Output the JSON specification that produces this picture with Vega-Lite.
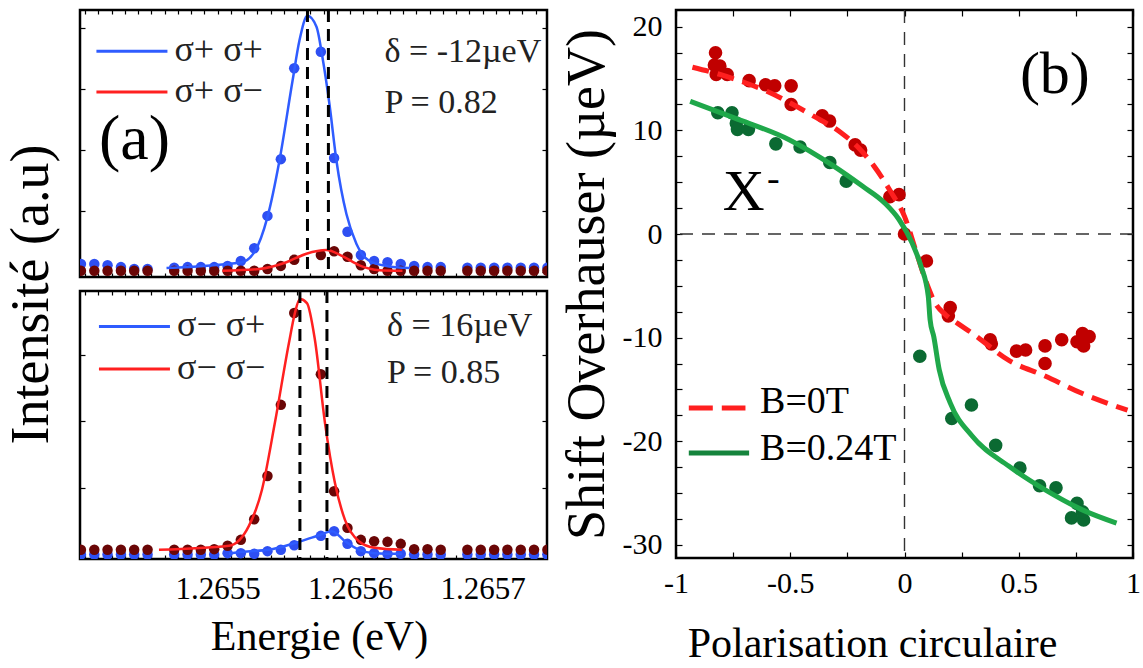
{
  "$schema": "https://vega.github.io/schema/vega-lite/v6.json",
  "background": "white",
  "padding": {"left": 3, "top": 7, "right": 5, "bottom": 5},
  "config": {
    "font": "Liberation Serif",
    "view": {"stroke": "black", "strokeWidth": 2.5},
    "axis": {"domain": false, "grid": false, "labelColor": "black", "titleColor": "black", "tickColor": "black", "tickWidth": 1.2, "titleFontWeight": "normal", "labelFont": "Liberation Serif", "titleFont": "Liberation Serif", "labelOverlap": false, "labelFlush": false},
    "text": {"font": "Liberation Serif", "color": "black"}
  },
  "datasets": {
    "spectra": [
      {"pan":"t","ser":"b","E":1.2653968,"I":0.13},{"pan":"t","ser":"b","E":1.2654069,"I":0.13},{"pan":"t","ser":"b","E":1.2654169,"I":0.11},{"pan":"t","ser":"b","E":1.265427,"I":0.08},{"pan":"t","ser":"b","E":1.265437,"I":0.05},{"pan":"t","ser":"b","E":1.2654471,"I":0.05},{"pan":"t","ser":"b","E":1.2654672,"I":0.07},{"pan":"t","ser":"b","E":1.2654773,"I":0.08},{"pan":"t","ser":"b","E":1.2654873,"I":0.08},{"pan":"t","ser":"b","E":1.2654974,"I":0.08},{"pan":"t","ser":"b","E":1.2655075,"I":0.10},{"pan":"t","ser":"b","E":1.2655175,"I":0.18},{"pan":"t","ser":"b","E":1.2655276,"I":0.39},{"pan":"t","ser":"b","E":1.2655376,"I":0.92},{"pan":"t","ser":"b","E":1.2655477,"I":1.85},{"pan":"t","ser":"b","E":1.2655578,"I":3.34},{"pan":"t","ser":"b","E":1.2655779,"I":3.61},{"pan":"t","ser":"b","E":1.2655879,"I":1.87},{"pan":"t","ser":"b","E":1.265598,"I":0.66},{"pan":"t","ser":"b","E":1.2656081,"I":0.28},{"pan":"t","ser":"b","E":1.2656181,"I":0.18},{"pan":"t","ser":"b","E":1.2656282,"I":0.16},{"pan":"t","ser":"b","E":1.2656382,"I":0.13},{"pan":"t","ser":"b","E":1.2656483,"I":0.10},{"pan":"t","ser":"b","E":1.2656584,"I":0.08},{"pan":"t","ser":"b","E":1.2656684,"I":0.08},{"pan":"t","ser":"b","E":1.2656885,"I":0.07},{"pan":"t","ser":"b","E":1.2656986,"I":0.07},{"pan":"t","ser":"b","E":1.2657087,"I":0.07},{"pan":"t","ser":"b","E":1.2657187,"I":0.07},{"pan":"t","ser":"b","E":1.2657288,"I":0.07},{"pan":"t","ser":"b","E":1.2657388,"I":0.07},{"pan":"t","ser":"b","E":1.2657489,"I":0.07},
      {"pan":"t","ser":"r","E":1.2653968,"I":0.02},{"pan":"t","ser":"r","E":1.2654069,"I":0.02},{"pan":"t","ser":"r","E":1.2654169,"I":0.02},{"pan":"t","ser":"r","E":1.265427,"I":0.02},{"pan":"t","ser":"r","E":1.265437,"I":0.02},{"pan":"t","ser":"r","E":1.2654471,"I":0.02},{"pan":"t","ser":"r","E":1.2654672,"I":0.02},{"pan":"t","ser":"r","E":1.2654773,"I":0.02},{"pan":"t","ser":"r","E":1.2654873,"I":0.02},{"pan":"t","ser":"r","E":1.2654974,"I":0.02},{"pan":"t","ser":"r","E":1.2655075,"I":0.02},{"pan":"t","ser":"r","E":1.2655175,"I":0.02},{"pan":"t","ser":"r","E":1.2655276,"I":0.02},{"pan":"t","ser":"r","E":1.2655376,"I":0.05},{"pan":"t","ser":"r","E":1.2655477,"I":0.10},{"pan":"t","ser":"r","E":1.2655578,"I":0.20},{"pan":"t","ser":"r","E":1.2655779,"I":0.28},{"pan":"t","ser":"r","E":1.2655879,"I":0.34},{"pan":"t","ser":"r","E":1.265598,"I":0.25},{"pan":"t","ser":"r","E":1.2656081,"I":0.11},{"pan":"t","ser":"r","E":1.2656181,"I":0.05},{"pan":"t","ser":"r","E":1.2656282,"I":0.02},{"pan":"t","ser":"r","E":1.2656382,"I":0.02},{"pan":"t","ser":"r","E":1.2656483,"I":0.02},{"pan":"t","ser":"r","E":1.2656584,"I":0.02},{"pan":"t","ser":"r","E":1.2656684,"I":0.02},{"pan":"t","ser":"r","E":1.2656885,"I":0.02},{"pan":"t","ser":"r","E":1.2656986,"I":0.02},{"pan":"t","ser":"r","E":1.2657087,"I":0.02},{"pan":"t","ser":"r","E":1.2657187,"I":0.02},{"pan":"t","ser":"r","E":1.2657288,"I":0.02},{"pan":"t","ser":"r","E":1.2657388,"I":0.02},{"pan":"t","ser":"r","E":1.2657489,"I":0.02},
      {"pan":"b","ser":"b","E":1.2653968,"I":0.0},{"pan":"b","ser":"b","E":1.2654069,"I":0.0},{"pan":"b","ser":"b","E":1.2654169,"I":0.0},{"pan":"b","ser":"b","E":1.265427,"I":0.0},{"pan":"b","ser":"b","E":1.265437,"I":0.0},{"pan":"b","ser":"b","E":1.2654471,"I":0.0},{"pan":"b","ser":"b","E":1.2654672,"I":0.0},{"pan":"b","ser":"b","E":1.2654773,"I":0.0},{"pan":"b","ser":"b","E":1.2654873,"I":0.0},{"pan":"b","ser":"b","E":1.2654974,"I":0.0},{"pan":"b","ser":"b","E":1.2655075,"I":0.02},{"pan":"b","ser":"b","E":1.2655175,"I":0.02},{"pan":"b","ser":"b","E":1.2655276,"I":0.01},{"pan":"b","ser":"b","E":1.2655376,"I":0.05},{"pan":"b","ser":"b","E":1.2655477,"I":0.07},{"pan":"b","ser":"b","E":1.2655578,"I":0.14},{"pan":"b","ser":"b","E":1.2655779,"I":0.28},{"pan":"b","ser":"b","E":1.2655879,"I":0.35},{"pan":"b","ser":"b","E":1.265598,"I":0.16},{"pan":"b","ser":"b","E":1.2656081,"I":0.05},{"pan":"b","ser":"b","E":1.2656181,"I":0.02},{"pan":"b","ser":"b","E":1.2656282,"I":0.01},{"pan":"b","ser":"b","E":1.2656382,"I":0.01},{"pan":"b","ser":"b","E":1.2656483,"I":0.0},{"pan":"b","ser":"b","E":1.2656584,"I":0.0},{"pan":"b","ser":"b","E":1.2656684,"I":0.0},{"pan":"b","ser":"b","E":1.2656885,"I":0.0},{"pan":"b","ser":"b","E":1.2656986,"I":0.0},{"pan":"b","ser":"b","E":1.2657087,"I":0.0},{"pan":"b","ser":"b","E":1.2657187,"I":0.0},{"pan":"b","ser":"b","E":1.2657288,"I":0.0},{"pan":"b","ser":"b","E":1.2657388,"I":0.0},{"pan":"b","ser":"b","E":1.2657489,"I":0.0},
      {"pan":"b","ser":"r","E":1.2653968,"I":0.07},{"pan":"b","ser":"r","E":1.2654069,"I":0.07},{"pan":"b","ser":"r","E":1.2654169,"I":0.07},{"pan":"b","ser":"r","E":1.265427,"I":0.07},{"pan":"b","ser":"r","E":1.265437,"I":0.07},{"pan":"b","ser":"r","E":1.2654471,"I":0.07},{"pan":"b","ser":"r","E":1.2654672,"I":0.07},{"pan":"b","ser":"r","E":1.2654773,"I":0.07},{"pan":"b","ser":"r","E":1.2654873,"I":0.07},{"pan":"b","ser":"r","E":1.2654974,"I":0.08},{"pan":"b","ser":"r","E":1.2655075,"I":0.13},{"pan":"b","ser":"r","E":1.2655175,"I":0.22},{"pan":"b","ser":"r","E":1.2655276,"I":0.53},{"pan":"b","ser":"r","E":1.2655376,"I":1.18},{"pan":"b","ser":"r","E":1.2655477,"I":2.25},{"pan":"b","ser":"r","E":1.2655578,"I":3.63},{"pan":"b","ser":"r","E":1.2655779,"I":2.71},{"pan":"b","ser":"r","E":1.2655879,"I":0.95},{"pan":"b","ser":"r","E":1.265598,"I":0.40},{"pan":"b","ser":"r","E":1.2656081,"I":0.22},{"pan":"b","ser":"r","E":1.2656181,"I":0.20},{"pan":"b","ser":"r","E":1.2656282,"I":0.19},{"pan":"b","ser":"r","E":1.2656382,"I":0.16},{"pan":"b","ser":"r","E":1.2656483,"I":0.08},{"pan":"b","ser":"r","E":1.2656584,"I":0.08},{"pan":"b","ser":"r","E":1.2656684,"I":0.07},{"pan":"b","ser":"r","E":1.2656885,"I":0.07},{"pan":"b","ser":"r","E":1.2656986,"I":0.07},{"pan":"b","ser":"r","E":1.2657087,"I":0.07},{"pan":"b","ser":"r","E":1.2657187,"I":0.07},{"pan":"b","ser":"r","E":1.2657288,"I":0.07},{"pan":"b","ser":"r","E":1.2657388,"I":0.07},{"pan":"b","ser":"r","E":1.2657489,"I":0.07}
    ],
    "fits": [
      {"pan":"t","ser":"b","E":1.2654614,"I":0.066},{"pan":"t","ser":"b","E":1.265518,"I":0.16},{"pan":"t","ser":"b","E":1.2655278,"I":0.33},{"pan":"t","ser":"b","E":1.2655376,"I":0.90},{"pan":"t","ser":"b","E":1.2655466,"I":1.82},{"pan":"t","ser":"b","E":1.2655565,"I":3.13},{"pan":"t","ser":"b","E":1.2655617,"I":3.79},{"pan":"t","ser":"b","E":1.2655678,"I":4.20},{"pan":"t","ser":"b","E":1.2655746,"I":4.02},{"pan":"t","ser":"b","E":1.2655791,"I":3.52},{"pan":"t","ser":"b","E":1.2655844,"I":2.75},{"pan":"t","ser":"b","E":1.2655897,"I":1.82},{"pan":"t","ser":"b","E":1.2655972,"I":0.95},{"pan":"t","ser":"b","E":1.2656048,"I":0.46},{"pan":"t","ser":"b","E":1.2656146,"I":0.18},{"pan":"t","ser":"b","E":1.2656274,"I":0.10},{"pan":"t","ser":"b","E":1.2656448,"I":0.066},
      {"pan":"t","ser":"r","E":1.2655036,"I":0.02},{"pan":"t","ser":"r","E":1.2655316,"I":0.05},{"pan":"t","ser":"r","E":1.2655519,"I":0.16},{"pan":"t","ser":"r","E":1.265567,"I":0.30},{"pan":"t","ser":"r","E":1.2655821,"I":0.36},{"pan":"t","ser":"r","E":1.2655942,"I":0.26},{"pan":"t","ser":"r","E":1.265607,"I":0.11},{"pan":"t","ser":"r","E":1.2656221,"I":0.03},{"pan":"t","ser":"r","E":1.2656395,"I":0.02},
      {"pan":"b","ser":"r","E":1.2654557,"I":0.07},{"pan":"b","ser":"r","E":1.2655085,"I":0.13},{"pan":"b","ser":"r","E":1.2655236,"I":0.43},{"pan":"b","ser":"r","E":1.2655334,"I":0.97},{"pan":"b","ser":"r","E":1.2655432,"I":1.98},{"pan":"b","ser":"r","E":1.2655538,"I":3.18},{"pan":"b","ser":"r","E":1.2655583,"I":3.63},{"pan":"b","ser":"r","E":1.2655621,"I":3.84},{"pan":"b","ser":"r","E":1.2655674,"I":3.78},{"pan":"b","ser":"r","E":1.2655734,"I":3.23},{"pan":"b","ser":"r","E":1.265581,"I":1.98},{"pan":"b","ser":"r","E":1.2655885,"I":1.08},{"pan":"b","ser":"r","E":1.2655961,"I":0.52},{"pan":"b","ser":"r","E":1.2656066,"I":0.20},{"pan":"b","ser":"r","E":1.2656187,"I":0.10},{"pan":"b","ser":"r","E":1.2656391,"I":0.07},
      {"pan":"b","ser":"b","E":1.2655085,"I":0.01},{"pan":"b","ser":"b","E":1.2655183,"I":0.04},{"pan":"b","ser":"b","E":1.2655387,"I":0.07},{"pan":"b","ser":"b","E":1.2655583,"I":0.17},{"pan":"b","ser":"b","E":1.2655765,"I":0.29},{"pan":"b","ser":"b","E":1.2655863,"I":0.35},{"pan":"b","ser":"b","E":1.2655961,"I":0.20},{"pan":"b","ser":"b","E":1.2656066,"I":0.07},{"pan":"b","ser":"b","E":1.2656187,"I":0.02},{"pan":"b","ser":"b","E":1.2656391,"I":0.01}
    ],
    "peaks": [
      {"pan":"t","E":1.2655678},{"pan":"t","E":1.2655836},{"pan":"b","E":1.2655621},{"pan":"b","E":1.2655825}
    ],
    "shift": [
      {"B":"B=0T","P":-0.827,"S":17.5},{"B":"B=0T","P":-0.832,"S":16.3},{"B":"B=0T","P":-0.824,"S":15.4},{"B":"B=0T","P":-0.808,"S":16.2},{"B":"B=0T","P":-0.776,"S":15.4},{"B":"B=0T","P":-0.68,"S":14.8},{"B":"B=0T","P":-0.608,"S":14.4},{"B":"B=0T","P":-0.568,"S":14.3},{"B":"B=0T","P":-0.496,"S":14.3},{"B":"B=0T","P":-0.496,"S":12.5},{"B":"B=0T","P":-0.36,"S":11.4},{"B":"B=0T","P":-0.328,"S":10.9},{"B":"B=0T","P":-0.216,"S":8.6},{"B":"B=0T","P":-0.192,"S":8.1},{"B":"B=0T","P":-0.064,"S":3.6},{"B":"B=0T","P":-0.024,"S":3.8},{"B":"B=0T","P":0.0,"S":0.0},{"B":"B=0T","P":0.096,"S":-2.6},{"B":"B=0T","P":0.2,"S":-7.1},{"B":"B=0T","P":0.192,"S":-7.9},{"B":"B=0T","P":0.375,"S":-10.2},{"B":"B=0T","P":0.38,"S":-10.6},{"B":"B=0T","P":0.49,"S":-11.3},{"B":"B=0T","P":0.53,"S":-11.2},{"B":"B=0T","P":0.615,"S":-10.8},{"B":"B=0T","P":0.615,"S":-12.5},{"B":"B=0T","P":0.688,"S":-10.2},{"B":"B=0T","P":0.755,"S":-10.4},{"B":"B=0T","P":0.779,"S":-9.6},{"B":"B=0T","P":0.784,"S":-10.8},{"B":"B=0T","P":0.808,"S":-9.9},
      {"B":"B=0.24T","P":-0.817,"S":11.7},{"B":"B=0.24T","P":-0.755,"S":11.7},{"B":"B=0.24T","P":-0.736,"S":10.7},{"B":"B=0.24T","P":-0.731,"S":10.1},{"B":"B=0.24T","P":-0.683,"S":10.1},{"B":"B=0.24T","P":-0.563,"S":8.7},{"B":"B=0.24T","P":-0.457,"S":8.4},{"B":"B=0.24T","P":-0.327,"S":6.9},{"B":"B=0.24T","P":-0.255,"S":5.1},{"B":"B=0.24T","P":0.067,"S":-11.8},{"B":"B=0.24T","P":0.207,"S":-17.8},{"B":"B=0.24T","P":0.293,"S":-16.5},{"B":"B=0.24T","P":0.399,"S":-20.4},{"B":"B=0.24T","P":0.505,"S":-22.6},{"B":"B=0.24T","P":0.591,"S":-24.3},{"B":"B=0.24T","P":0.663,"S":-24.5},{"B":"B=0.24T","P":0.755,"S":-26.0},{"B":"B=0.24T","P":0.731,"S":-27.4},{"B":"B=0.24T","P":0.784,"S":-27.6},{"B":"B=0.24T","P":0.779,"S":-26.8}
    ],
    "shiftfit": [
      {"B":"B=0T","P":-0.928,"S":16.1},{"B":"B=0T","P":-0.8,"S":15.35},{"B":"B=0T","P":-0.697,"S":14.6},{"B":"B=0T","P":-0.6,"S":13.75},{"B":"B=0T","P":-0.505,"S":12.7},{"B":"B=0T","P":-0.4,"S":11.4},{"B":"B=0T","P":-0.279,"S":9.8},{"B":"B=0T","P":-0.2,"S":8.3},{"B":"B=0T","P":-0.135,"S":6.6},{"B":"B=0T","P":-0.058,"S":4.0},{"B":"B=0T","P":0.0,"S":1.7},{"B":"B=0T","P":0.048,"S":-1.5},{"B":"B=0T","P":0.096,"S":-4.7},{"B":"B=0T","P":0.135,"S":-6.7},{"B":"B=0T","P":0.18,"S":-7.8},{"B":"B=0T","P":0.231,"S":-8.6},{"B":"B=0T","P":0.298,"S":-9.6},{"B":"B=0T","P":0.457,"S":-12.2},{"B":"B=0T","P":0.615,"S":-13.7},{"B":"B=0T","P":0.779,"S":-15.4},{"B":"B=0T","P":0.976,"S":-17.0},
      {"B":"B=0.24T","P":-0.938,"S":12.8},{"B":"B=0.24T","P":-0.745,"S":11.2},{"B":"B=0.24T","P":-0.505,"S":9.1},{"B":"B=0.24T","P":-0.313,"S":6.6},{"B":"B=0.24T","P":-0.183,"S":4.6},{"B":"B=0.24T","P":-0.087,"S":3.0},{"B":"B=0.24T","P":-0.024,"S":1.4},{"B":"B=0.24T","P":0.034,"S":-0.9},{"B":"B=0.24T","P":0.072,"S":-3.1},{"B":"B=0.24T","P":0.104,"S":-6.0},{"B":"B=0.24T","P":0.112,"S":-8.27},{"B":"B=0.24T","P":0.128,"S":-9.9},{"B":"B=0.24T","P":0.152,"S":-13.1},{"B":"B=0.24T","P":0.2,"S":-16.3},{"B":"B=0.24T","P":0.296,"S":-19.5},{"B":"B=0.24T","P":0.456,"S":-22.4},{"B":"B=0.24T","P":0.616,"S":-24.7},{"B":"B=0.24T","P":0.776,"S":-26.6},{"B":"B=0.24T","P":0.928,"S":-27.9}
    ],
    "one": [{}]
  },
  "spacing": 9,
  "hconcat": [
    {
      "bounds": "flush",
      "spacing": 14,
      "vconcat": [
        {
          "width": 467, "height": 267,
          "resolve": {"axis": {"x": "independent", "y": "independent"}},
          "layer": [
            {"data": {"name": "spectra"}, "transform": [{"filter": "datum.pan === 't' && datum.ser === 'b'"}],
             "mark": {"type": "circle", "size": 110, "opacity": 1, "color": "#2e4ff2", "clip": true},
             "encoding": {
               "x": {"field": "E", "type": "quantitative", "scale": {"domain": [1.2653961, 1.2657486], "nice": false, "zero": false},
                     "axis": {"orient": "bottom", "values": [1.2654,1.26541,1.26542,1.26543,1.26544,1.26545,1.26546,1.26547,1.26548,1.26549,1.2655,1.26551,1.26552,1.26553,1.26554,1.26555,1.26556,1.26557,1.26558,1.26559,1.2656,1.26561,1.26562,1.26563,1.26564,1.26565,1.26566,1.26567,1.26568,1.26569,1.2657,1.26571,1.26572,1.26573,1.26574], "labels": false, "tickSize": -4, "title": null}},
               "y": {"field": "I", "type": "quantitative", "scale": {"domain": [-0.082, 4.295], "nice": false, "zero": false},
                     "axis": {"orient": "left", "values": [0,1,2,3,4], "labels": false, "tickSize": -5, "title": "Intensité (a.u)", "titleFontSize": 54, "titlePadding": 21, "titleY": 284}}
             }},
            {"data": {"name": "spectra"}, "transform": [{"filter": "datum.pan === 't' && datum.ser === 'r'"}],
             "mark": {"type": "circle", "size": 110, "opacity": 1, "color": "#6a0606", "clip": true},
             "encoding": {
               "x": {"field": "E", "type": "quantitative", "scale": {"domain": [1.2653961, 1.2657486], "nice": false, "zero": false}, "axis": null},
               "y": {"field": "I", "type": "quantitative", "scale": {"domain": [-0.082, 4.295], "nice": false, "zero": false}, "axis": null}
             }},
            {"data": {"name": "fits"}, "transform": [{"filter": "datum.pan === 't' && datum.ser === 'b'"}],
             "mark": {"type": "line", "color": "#2f5cff", "strokeWidth": 2.5, "interpolate": "monotone", "clip": true},
             "encoding": {
               "x": {"field": "E", "type": "quantitative", "scale": {"domain": [1.2653961, 1.2657486], "nice": false, "zero": false},
                     "axis": {"orient": "top", "values": [1.2654,1.26541,1.26542,1.26543,1.26544,1.26545,1.26546,1.26547,1.26548,1.26549,1.2655,1.26551,1.26552,1.26553,1.26554,1.26555,1.26556,1.26557,1.26558,1.26559,1.2656,1.26561,1.26562,1.26563,1.26564,1.26565,1.26566,1.26567,1.26568,1.26569,1.2657,1.26571,1.26572,1.26573,1.26574], "labels": false, "tickSize": -4, "title": null}},
               "y": {"field": "I", "type": "quantitative", "scale": {"domain": [-0.082, 4.295], "nice": false, "zero": false},
                     "axis": {"orient": "right", "values": [0,1,2,3,4], "labels": false, "tickSize": -5, "title": null}}
             }},
            {"data": {"name": "fits"}, "transform": [{"filter": "datum.pan === 't' && datum.ser === 'r'"}],
             "mark": {"type": "line", "color": "#ff2020", "strokeWidth": 2.5, "interpolate": "monotone", "clip": true},
             "encoding": {
               "x": {"field": "E", "type": "quantitative", "scale": {"domain": [1.2653961, 1.2657486], "nice": false, "zero": false}, "axis": null},
               "y": {"field": "I", "type": "quantitative", "scale": {"domain": [-0.082, 4.295], "nice": false, "zero": false}, "axis": null}
             }},
            {"data": {"name": "peaks"}, "transform": [{"filter": "datum.pan === 't'"}],
             "mark": {"type": "rule", "color": "black", "strokeWidth": 3, "strokeDash": [12, 7]},
             "encoding": {
               "x": {"field": "E", "type": "quantitative", "scale": {"domain": [1.2653961, 1.2657486], "nice": false, "zero": false}, "axis": null}
             }},
            {"data": {"name": "one"},
             "mark": {"type": "rule", "color": "#2f5cff", "strokeWidth": 3},
             "encoding": {
               "x": {"datum": 1.2654085, "type": "quantitative", "scale": {"domain": [1.2653961, 1.2657486], "nice": false, "zero": false}, "axis": null},
               "x2": {"datum": 1.2654621},
               "y": {"datum": 3.62, "type": "quantitative", "scale": {"domain": [-0.082, 4.295], "nice": false, "zero": false}, "axis": null}
             }},
            {"data": {"name": "one"},
             "mark": {"type": "rule", "color": "#ff2020", "strokeWidth": 3},
             "encoding": {
               "x": {"datum": 1.2654085, "type": "quantitative", "scale": {"domain": [1.2653961, 1.2657486], "nice": false, "zero": false}, "axis": null},
               "x2": {"datum": 1.2654621},
               "y": {"datum": 2.95, "type": "quantitative", "scale": {"domain": [-0.082, 4.295], "nice": false, "zero": false}, "axis": null}
             }},
            {"data": {"name": "one"},
             "mark": {"type": "text", "text": "σ+ σ+", "fontSize": 36, "align": "left", "baseline": "alphabetic", "color": "#222"},
             "encoding": {
               "x": {"datum": 1.2654674, "type": "quantitative", "scale": {"domain": [1.2653961, 1.2657486], "nice": false, "zero": false}, "axis": null},
               "y": {"datum": 3.46, "type": "quantitative", "scale": {"domain": [-0.082, 4.295], "nice": false, "zero": false}, "axis": null}
             }},
            {"data": {"name": "one"},
             "mark": {"type": "text", "text": "σ+ σ−", "fontSize": 36, "align": "left", "baseline": "alphabetic", "color": "#222"},
             "encoding": {
               "x": {"datum": 1.2654674, "type": "quantitative", "scale": {"domain": [1.2653961, 1.2657486], "nice": false, "zero": false}, "axis": null},
               "y": {"datum": 2.79, "type": "quantitative", "scale": {"domain": [-0.082, 4.295], "nice": false, "zero": false}, "axis": null}
             }},
            {"data": {"name": "one"},
             "mark": {"type": "text", "text": "δ = -12µeV", "fontSize": 34, "align": "left", "baseline": "alphabetic", "color": "#222"},
             "encoding": {
               "x": {"datum": 1.2656259, "type": "quantitative", "scale": {"domain": [1.2653961, 1.2657486], "nice": false, "zero": false}, "axis": null},
               "y": {"datum": 3.44, "type": "quantitative", "scale": {"domain": [-0.082, 4.295], "nice": false, "zero": false}, "axis": null}
             }},
            {"data": {"name": "one"},
             "mark": {"type": "text", "text": "P = 0.82", "fontSize": 34, "align": "left", "baseline": "alphabetic", "color": "#222"},
             "encoding": {
               "x": {"datum": 1.2656259, "type": "quantitative", "scale": {"domain": [1.2653961, 1.2657486], "nice": false, "zero": false}, "axis": null},
               "y": {"datum": 2.61, "type": "quantitative", "scale": {"domain": [-0.082, 4.295], "nice": false, "zero": false}, "axis": null}
             }},
            {"data": {"name": "one"},
             "mark": {"type": "text", "text": "(a)", "fontSize": 64, "align": "center", "baseline": "alphabetic", "color": "black"},
             "encoding": {
               "x": {"datum": 1.2654372, "type": "quantitative", "scale": {"domain": [1.2653961, 1.2657486], "nice": false, "zero": false}, "axis": null},
               "y": {"datum": 1.85, "type": "quantitative", "scale": {"domain": [-0.082, 4.295], "nice": false, "zero": false}, "axis": null}
             }}
          ]
        },
        {
          "width": 467, "height": 268,
          "resolve": {"axis": {"x": "independent", "y": "independent"}},
          "layer": [
            {"data": {"name": "spectra"}, "transform": [{"filter": "datum.pan === 'b' && datum.ser === 'b'"}],
             "mark": {"type": "circle", "size": 110, "opacity": 1, "color": "#2e4ff2", "clip": true},
             "encoding": {
               "x": {"field": "E", "type": "quantitative", "scale": {"domain": [1.2653961, 1.2657486], "nice": false, "zero": false},
                     "axis": {"orient": "bottom", "values": [1.2654,1.26541,1.26542,1.26543,1.26544,1.26545,1.26546,1.26547,1.26548,1.26549,1.2655,1.26551,1.26552,1.26553,1.26554,1.26555,1.26556,1.26557,1.26558,1.26559,1.2656,1.26561,1.26562,1.26563,1.26564,1.26565,1.26566,1.26567,1.26568,1.26569,1.2657,1.26571,1.26572,1.26573,1.26574], "tickSize": -4, "labelFontSize": 31, "labelPadding": 19,
                              "labelExpr": "(datum.value > 1.26545 && abs(datum.value*10000 - round(datum.value*10000)) < 0.01) ? format(datum.value, '.4f') : ''",
                              "title": "Energie (eV)", "titleFontSize": 42, "titlePadding": 12, "titleX": 239}},
               "y": {"field": "I", "type": "quantitative", "scale": {"domain": [-0.068, 3.962], "nice": false, "zero": false},
                     "axis": {"orient": "left", "values": [0,1,2,3], "labels": false, "tickSize": -5, "title": null}}
             }},
            {"data": {"name": "spectra"}, "transform": [{"filter": "datum.pan === 'b' && datum.ser === 'r'"}],
             "mark": {"type": "circle", "size": 110, "opacity": 1, "color": "#6a0606", "clip": true},
             "encoding": {
               "x": {"field": "E", "type": "quantitative", "scale": {"domain": [1.2653961, 1.2657486], "nice": false, "zero": false}, "axis": null},
               "y": {"field": "I", "type": "quantitative", "scale": {"domain": [-0.068, 3.962], "nice": false, "zero": false}, "axis": null}
             }},
            {"data": {"name": "fits"}, "transform": [{"filter": "datum.pan === 'b' && datum.ser === 'b'"}],
             "mark": {"type": "line", "color": "#2f5cff", "strokeWidth": 2.5, "interpolate": "monotone", "clip": true},
             "encoding": {
               "x": {"field": "E", "type": "quantitative", "scale": {"domain": [1.2653961, 1.2657486], "nice": false, "zero": false},
                     "axis": {"orient": "top", "values": [1.2654,1.26541,1.26542,1.26543,1.26544,1.26545,1.26546,1.26547,1.26548,1.26549,1.2655,1.26551,1.26552,1.26553,1.26554,1.26555,1.26556,1.26557,1.26558,1.26559,1.2656,1.26561,1.26562,1.26563,1.26564,1.26565,1.26566,1.26567,1.26568,1.26569,1.2657,1.26571,1.26572,1.26573,1.26574], "labels": false, "tickSize": -4, "title": null}},
               "y": {"field": "I", "type": "quantitative", "scale": {"domain": [-0.068, 3.962], "nice": false, "zero": false},
                     "axis": {"orient": "right", "values": [0,1,2,3], "labels": false, "tickSize": -5, "title": null}}
             }},
            {"data": {"name": "fits"}, "transform": [{"filter": "datum.pan === 'b' && datum.ser === 'r'"}],
             "mark": {"type": "line", "color": "#ff2020", "strokeWidth": 2.5, "interpolate": "monotone", "clip": true},
             "encoding": {
               "x": {"field": "E", "type": "quantitative", "scale": {"domain": [1.2653961, 1.2657486], "nice": false, "zero": false}, "axis": null},
               "y": {"field": "I", "type": "quantitative", "scale": {"domain": [-0.068, 3.962], "nice": false, "zero": false}, "axis": null}
             }},
            {"data": {"name": "peaks"}, "transform": [{"filter": "datum.pan === 'b'"}],
             "mark": {"type": "rule", "color": "black", "strokeWidth": 3, "strokeDash": [12, 7]},
             "encoding": {
               "x": {"field": "E", "type": "quantitative", "scale": {"domain": [1.2653961, 1.2657486], "nice": false, "zero": false}, "axis": null}
             }},
            {"data": {"name": "one"},
             "mark": {"type": "rule", "color": "#2f5cff", "strokeWidth": 3},
             "encoding": {
               "x": {"datum": 1.2654104, "type": "quantitative", "scale": {"domain": [1.2653961, 1.2657486], "nice": false, "zero": false}, "axis": null},
               "x2": {"datum": 1.265464},
               "y": {"datum": 3.43, "type": "quantitative", "scale": {"domain": [-0.068, 3.962], "nice": false, "zero": false}, "axis": null}
             }},
            {"data": {"name": "one"},
             "mark": {"type": "rule", "color": "#ff2020", "strokeWidth": 3},
             "encoding": {
               "x": {"datum": 1.2654104, "type": "quantitative", "scale": {"domain": [1.2653961, 1.2657486], "nice": false, "zero": false}, "axis": null},
               "x2": {"datum": 1.265464},
               "y": {"datum": 2.79, "type": "quantitative", "scale": {"domain": [-0.068, 3.962], "nice": false, "zero": false}, "axis": null}
             }},
            {"data": {"name": "one"},
             "mark": {"type": "text", "text": "σ− σ+", "fontSize": 36, "align": "left", "baseline": "alphabetic", "color": "#222"},
             "encoding": {
               "x": {"datum": 1.2654693, "type": "quantitative", "scale": {"domain": [1.2653961, 1.2657486], "nice": false, "zero": false}, "axis": null},
               "y": {"datum": 3.28, "type": "quantitative", "scale": {"domain": [-0.068, 3.962], "nice": false, "zero": false}, "axis": null}
             }},
            {"data": {"name": "one"},
             "mark": {"type": "text", "text": "σ− σ−", "fontSize": 36, "align": "left", "baseline": "alphabetic", "color": "#222"},
             "encoding": {
               "x": {"datum": 1.2654693, "type": "quantitative", "scale": {"domain": [1.2653961, 1.2657486], "nice": false, "zero": false}, "axis": null},
               "y": {"datum": 2.64, "type": "quantitative", "scale": {"domain": [-0.068, 3.962], "nice": false, "zero": false}, "axis": null}
             }},
            {"data": {"name": "one"},
             "mark": {"type": "text", "text": "δ = 16µeV", "fontSize": 34, "align": "left", "baseline": "alphabetic", "color": "#222"},
             "encoding": {
               "x": {"datum": 1.2656278, "type": "quantitative", "scale": {"domain": [1.2653961, 1.2657486], "nice": false, "zero": false}, "axis": null},
               "y": {"datum": 3.29, "type": "quantitative", "scale": {"domain": [-0.068, 3.962], "nice": false, "zero": false}, "axis": null}
             }},
            {"data": {"name": "one"},
             "mark": {"type": "text", "text": "P = 0.85", "fontSize": 34, "align": "left", "baseline": "alphabetic", "color": "#222"},
             "encoding": {
               "x": {"datum": 1.2656278, "type": "quantitative", "scale": {"domain": [1.2653961, 1.2657486], "nice": false, "zero": false}, "axis": null},
               "y": {"datum": 2.58, "type": "quantitative", "scale": {"domain": [-0.068, 3.962], "nice": false, "zero": false}, "axis": null}
             }}
          ]
        }
      ]
    },
    {
      "width": 457, "height": 548,
      "resolve": {"axis": {"x": "independent", "y": "independent"}},
      "layer": [
        {"data": {"name": "one"},
         "mark": {"type": "rule", "color": "#333", "strokeWidth": 1.4, "strokeDash": [13, 9]},
         "encoding": {
           "x": {"datum": 0, "type": "quantitative", "scale": {"domain": [-1, 1], "nice": false, "zero": false}, "axis": null}
         }},
        {"data": {"name": "one"},
         "mark": {"type": "rule", "color": "#333", "strokeWidth": 1.4, "strokeDash": [13, 9]},
         "encoding": {
           "y": {"datum": 0, "type": "quantitative", "scale": {"domain": [-31.27, 21.62], "nice": false, "zero": false}, "axis": null}
         }},
        {"data": {"name": "shift"}, "transform": [{"filter": "datum.B === 'B=0T'"}],
         "mark": {"type": "circle", "size": 185, "opacity": 1, "color": "#c00000"},
         "encoding": {
           "x": {"field": "P", "type": "quantitative", "scale": {"domain": [-1, 1], "nice": false, "zero": false},
                 "axis": {"orient": "bottom", "values": [-1,-0.75,-0.5,-0.25,0,0.25,0.5,0.75,1], "tickSize": -6, "labelFontSize": 30, "labelPadding": 16,
                          "labelExpr": "datum.value % 0.5 == 0 ? '' + datum.value : ''",
                          "title": "Polarisation circulaire", "titleFontSize": 42, "titlePadding": 25, "titleX": 196}},
           "y": {"field": "S", "type": "quantitative", "scale": {"domain": [-31.27, 21.62], "nice": false, "zero": false},
                 "axis": {"orient": "left", "values": [-30,-27.5,-25,-22.5,-20,-17.5,-15,-12.5,-10,-7.5,-5,-2.5,0,2.5,5,7.5,10,12.5,15,17.5,20], "tickSize": -6, "labelFontSize": 30, "labelPadding": 20,
                          "labelExpr": "datum.value % 10 == 0 ? '' + datum.value : ''",
                          "title": "Shift Overhauser (µeV)", "titleFontSize": 54, "titlePadding": 8}}
         }},
        {"data": {"name": "shift"}, "transform": [{"filter": "datum.B === 'B=0.24T'"}],
         "mark": {"type": "circle", "size": 185, "opacity": 1, "color": "#0b6a32"},
         "encoding": {
           "x": {"field": "P", "type": "quantitative", "scale": {"domain": [-1, 1], "nice": false, "zero": false},
                 "axis": {"orient": "top", "values": [-1,-0.75,-0.5,-0.25,0,0.25,0.5,0.75,1], "tickSize": -6, "labels": false, "title": null}},
           "y": {"field": "S", "type": "quantitative", "scale": {"domain": [-31.27, 21.62], "nice": false, "zero": false},
                 "axis": {"orient": "right", "values": [-30,-27.5,-25,-22.5,-20,-17.5,-15,-12.5,-10,-7.5,-5,-2.5,0,2.5,5,7.5,10,12.5,15,17.5,20], "tickSize": -6, "labels": false, "title": null}}
         }},
        {"data": {"name": "shiftfit"}, "transform": [{"filter": "datum.B === 'B=0T'"}],
         "mark": {"type": "line", "color": "#ff1f1f", "strokeWidth": 5, "strokeDash": [17, 9], "interpolate": "monotone"},
         "encoding": {
           "x": {"field": "P", "type": "quantitative", "scale": {"domain": [-1, 1], "nice": false, "zero": false}, "axis": null},
           "y": {"field": "S", "type": "quantitative", "scale": {"domain": [-31.27, 21.62], "nice": false, "zero": false}, "axis": null}
         }},
        {"data": {"name": "shiftfit"}, "transform": [{"filter": "datum.B === 'B=0.24T'"}],
         "mark": {"type": "line", "color": "#1fa84a", "strokeWidth": 5, "interpolate": "monotone"},
         "encoding": {
           "x": {"field": "P", "type": "quantitative", "scale": {"domain": [-1, 1], "nice": false, "zero": false}, "axis": null},
           "y": {"field": "S", "type": "quantitative", "scale": {"domain": [-31.27, 21.62], "nice": false, "zero": false}, "axis": null}
         }},
        {"data": {"name": "one"},
         "mark": {"type": "rule", "color": "#ff1f1f", "strokeWidth": 5, "strokeDash": [24, 9]},
         "encoding": {
           "x": {"datum": -0.944, "type": "quantitative", "scale": {"domain": [-1, 1], "nice": false, "zero": false}, "axis": null},
           "x2": {"datum": -0.696},
           "y": {"datum": -16.8, "type": "quantitative", "scale": {"domain": [-31.27, 21.62], "nice": false, "zero": false}, "axis": null}
         }},
        {"data": {"name": "one"},
         "mark": {"type": "rule", "color": "#15843c", "strokeWidth": 5},
         "encoding": {
           "x": {"datum": -0.944, "type": "quantitative", "scale": {"domain": [-1, 1], "nice": false, "zero": false}, "axis": null},
           "x2": {"datum": -0.68},
           "y": {"datum": -21.14, "type": "quantitative", "scale": {"domain": [-31.27, 21.62], "nice": false, "zero": false}, "axis": null}
         }},
        {"data": {"name": "one"},
         "mark": {"type": "text", "text": "B=0T", "fontSize": 38, "align": "left", "baseline": "alphabetic", "color": "black"},
         "encoding": {
           "x": {"datum": -0.632, "type": "quantitative", "scale": {"domain": [-1, 1], "nice": false, "zero": false}, "axis": null},
           "y": {"datum": -17.28, "type": "quantitative", "scale": {"domain": [-31.27, 21.62], "nice": false, "zero": false}, "axis": null}
         }},
        {"data": {"name": "one"},
         "mark": {"type": "text", "text": "B=0.24T", "fontSize": 38, "align": "left", "baseline": "alphabetic", "color": "black"},
         "encoding": {
           "x": {"datum": -0.632, "type": "quantitative", "scale": {"domain": [-1, 1], "nice": false, "zero": false}, "axis": null},
           "y": {"datum": -21.8, "type": "quantitative", "scale": {"domain": [-31.27, 21.62], "nice": false, "zero": false}, "axis": null}
         }},
        {"data": {"name": "one"},
         "mark": {"type": "text", "text": "(b)", "fontSize": 60, "align": "left", "baseline": "alphabetic", "color": "black"},
         "encoding": {
           "x": {"datum": 0.505, "type": "quantitative", "scale": {"domain": [-1, 1], "nice": false, "zero": false}, "axis": null},
           "y": {"datum": 13.6, "type": "quantitative", "scale": {"domain": [-31.27, 21.62], "nice": false, "zero": false}, "axis": null}
         }},
        {"data": {"name": "one"},
         "mark": {"type": "text", "text": "X", "fontSize": 58, "align": "left", "baseline": "alphabetic", "color": "black"},
         "encoding": {
           "x": {"datum": -0.795, "type": "quantitative", "scale": {"domain": [-1, 1], "nice": false, "zero": false}, "axis": null},
           "y": {"datum": 2.35, "type": "quantitative", "scale": {"domain": [-31.27, 21.62], "nice": false, "zero": false}, "axis": null}
         }},
        {"data": {"name": "one"},
         "mark": {"type": "text", "text": "-", "fontSize": 38, "align": "center", "baseline": "alphabetic", "color": "black"},
         "encoding": {
           "x": {"datum": -0.574, "type": "quantitative", "scale": {"domain": [-1, 1], "nice": false, "zero": false}, "axis": null},
           "y": {"datum": 4.17, "type": "quantitative", "scale": {"domain": [-31.27, 21.62], "nice": false, "zero": false}, "axis": null}
         }}
      ]
    }
  ]
}
